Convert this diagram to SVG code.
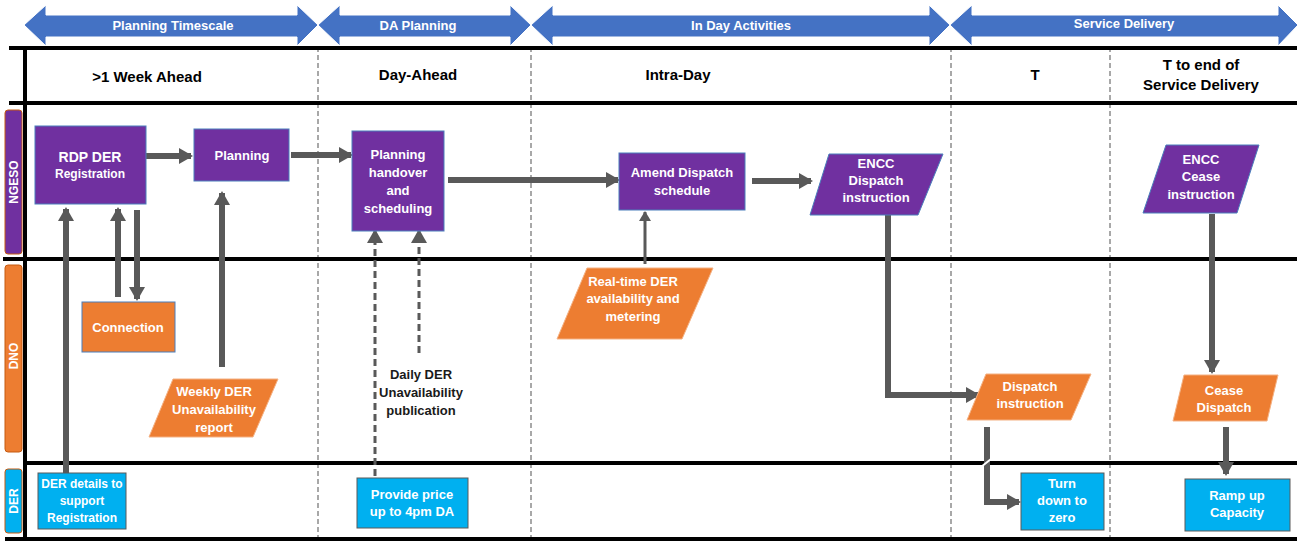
<svg xmlns="http://www.w3.org/2000/svg" width="1301" height="543" viewBox="0 0 1301 543">
<style>
.ban{fill:#4472C4;stroke:#FFFFFF;stroke-width:1}
.bt{font-family:"Liberation Sans",Arial,sans-serif;font-size:13px;font-weight:bold;fill:#FFFFFF;text-anchor:middle}
.hd{font-family:"Liberation Sans",Arial,sans-serif;font-size:15px;font-weight:bold;fill:#000000;text-anchor:middle}
.tl{stroke:#000000;stroke-width:4;fill:none}
.dl{stroke:#8C8C8C;stroke-width:1.5;stroke-dasharray:5,3;fill:none}
.pu{fill:#7030A0;stroke:#4A7EBB;stroke-width:1}
.or{fill:#ED7D31;stroke:#4A7EBB;stroke-width:1}
.orp{fill:#ED7D31;stroke:#F4B183;stroke-width:1}
.cy{fill:#00B0F0;stroke:#5A5A5A;stroke-width:1}
.nt{font-family:"Liberation Sans",Arial,sans-serif;font-size:13px;font-weight:bold;fill:#FFFFFF;text-anchor:middle}
.ns{font-family:"Liberation Sans",Arial,sans-serif;font-size:12px;font-weight:bold;fill:#FFFFFF;text-anchor:middle}
.bk{font-family:"Liberation Sans",Arial,sans-serif;font-size:13px;font-weight:bold;fill:#1A1A1A;text-anchor:middle}
.lt{font-family:"Liberation Sans",Arial,sans-serif;font-size:12px;font-weight:bold;fill:#FFFFFF;text-anchor:middle}
.c{stroke:#595959;stroke-width:6;fill:none}
.cd{stroke:#595959;stroke-width:3;fill:none;stroke-dasharray:7,4}
.ct{stroke:#595959;stroke-width:3;fill:none}
</style>
<defs>
<marker id="ah" markerUnits="userSpaceOnUse" markerWidth="14" markerHeight="16" refX="12" refY="8" orient="auto">
<path d="M0,0 L14,8 L0,16 Z" fill="#595959"/>
</marker>
<marker id="ahs" markerUnits="userSpaceOnUse" markerWidth="10" markerHeight="12" refX="9" refY="6" orient="auto">
<path d="M0,0 L10,6 L0,12 Z" fill="#595959"/>
</marker>
</defs>
<rect x="0" y="0" width="1301" height="543" fill="#FFFFFF"/>

<g id="banner">
<polygon class="ban" points="24,25 46,5 46,15 297,15 297,5 318,25 297,46 297,37 46,37 46,46"/>
<text class="bt" x="173" y="30">Planning Timescale</text>
<polygon class="ban" points="318,25 340,5 340,15 510,15 510,5 531,25 510,46 510,37 340,37 340,46"/>
<text class="bt" x="418" y="30">DA Planning</text>
<polygon class="ban" points="531,25 553,5 553,15 929,15 929,5 950,25 929,46 929,37 553,37 553,46"/>
<text class="bt" x="741" y="30">In Day Activities</text>
<polygon class="ban" points="950,25 972,5 972,15 1278,15 1278,5 1298,25 1278,46 1278,37 972,37 972,46"/>
<text class="bt" x="1124" y="28">Service Delivery</text>
</g>

<g id="table">
<line class="dl" x1="318" y1="47" x2="318" y2="541"/>
<line class="dl" x1="531" y1="47" x2="531" y2="541"/>
<line class="dl" x1="951" y1="47" x2="951" y2="541"/>
<line class="dl" x1="1110" y1="47" x2="1110" y2="541"/>
<line class="tl" x1="9" y1="48" x2="1297" y2="48"/>
<line class="tl" x1="9" y1="103" x2="1297" y2="103"/>
<line class="tl" x1="3" y1="259" x2="1297" y2="259"/>
<line class="tl" x1="25" y1="463" x2="1297" y2="463"/>
<line class="tl" x1="5" y1="539" x2="1297" y2="539"/>
<line class="tl" x1="25" y1="46" x2="25" y2="541"/>
<text class="hd" x="147" y="82">&gt;1 Week Ahead</text>
<text class="hd" x="418" y="80">Day-Ahead</text>
<text class="hd" x="678" y="80">Intra-Day</text>
<text class="hd" x="1035" y="80">T</text>
<text class="hd" x="1201" y="70">T to end of</text>
<text class="hd" x="1201" y="90">Service Delivery</text>
</g>

<g id="lane-ngeso">
<rect x="5" y="110" width="17" height="144" rx="3" fill="#7030A0" stroke="#C55A11" stroke-width="1"/>
<text class="lt" transform="translate(18,182) rotate(-90)">NGESO</text>
</g>
<g id="lane-dno">
<rect x="5" y="265" width="17" height="187" rx="3" fill="#ED7D31" stroke="#C55A11" stroke-width="1"/>
<text class="lt" transform="translate(18,356) rotate(-90)">DNO</text>
</g>
<g id="lane-der">
<rect x="5" y="469" width="17" height="64" rx="3" fill="#00B0F0" stroke="#C55A11" stroke-width="1"/>
<text class="lt" transform="translate(18,501) rotate(-90)">DER</text>
</g>

<g id="connectors">
<line class="c" x1="146" y1="156" x2="191" y2="156" marker-end="url(#ah)"/>
<line class="c" x1="291" y1="155" x2="351" y2="155" marker-end="url(#ah)"/>
<line class="c" x1="448" y1="180" x2="618" y2="180" marker-end="url(#ah)"/>
<line class="c" x1="752" y1="181" x2="811" y2="181" marker-end="url(#ah)"/>
<line class="c" x1="66" y1="473" x2="66" y2="209" marker-end="url(#ah)"/>
<line class="c" x1="118" y1="297" x2="118" y2="209" marker-end="url(#ah)"/>
<line class="c" x1="137" y1="210" x2="137" y2="299" marker-end="url(#ah)"/>
<line class="c" x1="222" y1="367" x2="222" y2="193" marker-end="url(#ah)"/>
<line class="cd" x1="375" y1="476" x2="375" y2="231" marker-end="url(#ah)"/>
<line class="cd" x1="419" y1="353" x2="419" y2="231" marker-end="url(#ah)"/>
<line class="ct" x1="645" y1="264" x2="645" y2="212" marker-end="url(#ahs)"/>
<polyline class="c" points="888,214 888,395 978,395" marker-end="url(#ah)"/>
<line class="c" x1="1212" y1="214" x2="1212" y2="372" marker-end="url(#ah)"/>
<polyline class="c" points="987,427 987,502 1019,502" marker-end="url(#ah)"/>
<line x1="981" y1="467" x2="991" y2="459" stroke="#FFFFFF" stroke-width="2"/>
<line class="c" x1="1226" y1="427" x2="1226" y2="474" marker-end="url(#ah)"/>
</g>

<g id="n-rdp">
<rect class="pu" x="35" y="126" width="111" height="78"/>
<text class="nt" x="90" y="162" style="font-size:14px">RDP DER</text>
<text class="ns" x="90" y="178">Registration</text>
</g>
<g id="n-planning">
<rect class="pu" x="194" y="129" width="95" height="52"/>
<text class="nt" x="242" y="160">Planning</text>
</g>
<g id="n-handover">
<rect class="pu" x="352" y="131" width="92" height="100"/>
<text class="nt" x="398" y="159">Planning</text>
<text class="nt" x="398" y="177">handover</text>
<text class="nt" x="398" y="195">and</text>
<text class="nt" x="398" y="213">scheduling</text>
</g>
<g id="n-amend">
<rect class="pu" x="619" y="153" width="126" height="57"/>
<text class="nt" x="682" y="177">Amend Dispatch</text>
<text class="nt" x="682" y="195">schedule</text>
</g>
<g id="n-encc-dispatch">
<polygon class="pu" points="829,154 943,154 918,215 810,215"/>
<text class="nt" x="876" y="168">ENCC</text>
<text class="nt" x="876" y="185">Dispatch</text>
<text class="nt" x="876" y="202">instruction</text>
</g>
<g id="n-encc-cease">
<polygon class="pu" points="1166,145 1259,145 1237,213 1143,213"/>
<text class="nt" x="1201" y="164">ENCC</text>
<text class="nt" x="1201" y="181">Cease</text>
<text class="nt" x="1201" y="199">instruction</text>
</g>
<g id="n-connection">
<rect class="or" x="82" y="302" width="93" height="50"/>
<text class="nt" x="128" y="332">Connection</text>
</g>
<g id="n-weekly">
<polygon class="orp" points="173,379 278,379 253,437 149,437"/>
<text class="nt" x="214" y="396">Weekly DER</text>
<text class="nt" x="214" y="414">Unavailability</text>
<text class="nt" x="214" y="432">report</text>
</g>
<g id="n-daily">
<text class="bk" x="421" y="379">Daily DER</text>
<text class="bk" x="421" y="397">Unavailability</text>
<text class="bk" x="421" y="415">publication</text>
</g>
<g id="n-realtime">
<polygon class="orp" points="587,268 713,268 682,339 557,339"/>
<text class="nt" x="633" y="286">Real-time DER</text>
<text class="nt" x="633" y="303">availability and</text>
<text class="nt" x="633" y="321">metering</text>
</g>
<g id="n-dispatch-instr">
<polygon class="orp" points="986,374 1091,374 1071,420 967,420"/>
<text class="nt" x="1030" y="391">Dispatch</text>
<text class="nt" x="1030" y="408">instruction</text>
</g>
<g id="n-cease-dispatch">
<polygon class="orp" points="1184,375 1278,375 1267,421 1173,421"/>
<text class="nt" x="1224" y="395">Cease</text>
<text class="nt" x="1224" y="412">Dispatch</text>
</g>
<g id="n-der-details">
<rect class="cy" x="38" y="473" width="88" height="56"/>
<text class="ns" x="82" y="488">DER details to</text>
<text class="ns" x="82" y="505">support</text>
<text class="ns" x="82" y="522">Registration</text>
</g>
<g id="n-provide-price">
<rect class="cy" x="357" y="478" width="111" height="50"/>
<text class="nt" x="412" y="499">Provide price</text>
<text class="nt" x="412" y="516">up to 4pm DA</text>
</g>
<g id="n-turn-down">
<rect class="cy" x="1021" y="473" width="83" height="57"/>
<text class="nt" x="1062" y="488">Turn</text>
<text class="nt" x="1062" y="505">down to</text>
<text class="nt" x="1062" y="522">zero</text>
</g>
<g id="n-ramp-up">
<rect class="cy" x="1185" y="479" width="105" height="52"/>
<text class="nt" x="1237" y="500">Ramp up</text>
<text class="nt" x="1237" y="517">Capacity</text>
</g>
</svg>
